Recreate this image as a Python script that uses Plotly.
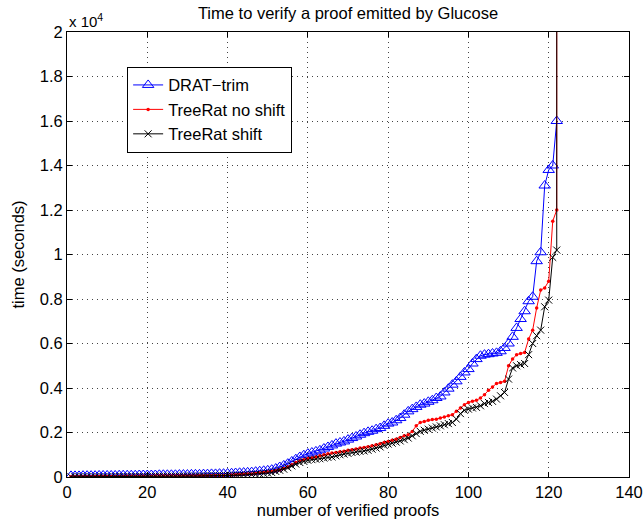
import plotly.graph_objects as go

# values in thousands of seconds, x = 1..N
drat = [0.05,0.05,0.05,0.06,0.06,0.06,0.06,0.07,0.07,0.07,
        0.07,0.07,0.08,0.08,0.08,0.08,0.08,0.09,0.09,0.09,
        0.09,0.09,0.10,0.10,0.10,0.10,0.10,0.11,0.11,0.11,
        0.12,0.12,0.12,0.13,0.13,0.14,0.14,0.15,0.15,0.16,
        0.17,0.18,0.19,0.20,0.21,0.22,0.24,0.26,0.28,0.30,
        0.33,0.38,0.45,0.52,0.60,0.70,0.80,0.90,0.98,1.05,
        1.10,1.15,1.20,1.28,1.35,1.42,1.50,1.55,1.60,1.68,
        1.75,1.82,1.90,1.97,2.03,2.08,2.15,2.20,2.30,2.40,
        2.45,2.55,2.65,2.80,2.95,3.05,3.15,3.25,3.30,3.38,
        3.45,3.55,3.62,3.80,3.97,4.15,4.30,4.50,4.70,4.85,
        5.10,5.30,5.45,5.50,5.52,5.55,5.58,5.65,5.80,6.00,
        6.30,6.70,7.10,7.45,7.90,8.10,9.70,10.10,13.10,13.80,
        14.00,16.00]

noshift = [0.01,0.01,0.01,0.01,0.01,0.01,0.02,0.02,0.02,0.02,
           0.02,0.02,0.02,0.02,0.03,0.03,0.03,0.03,0.03,0.03,
           0.03,0.04,0.04,0.04,0.04,0.04,0.04,0.05,0.05,0.05,
           0.05,0.05,0.06,0.06,0.06,0.06,0.07,0.07,0.07,0.08,
           0.09,0.10,0.11,0.12,0.13,0.14,0.16,0.18,0.20,0.22,
           0.25,0.28,0.32,0.38,0.45,0.55,0.65,0.72,0.78,0.83,
           0.85,0.90,0.95,1.00,1.05,1.08,1.10,1.13,1.16,1.20,
           1.23,1.26,1.30,1.33,1.36,1.40,1.45,1.50,1.55,1.60,
           1.65,1.70,1.78,1.85,1.90,2.05,2.30,2.45,2.50,2.55,
           2.58,2.60,2.65,2.70,2.75,2.80,2.95,3.10,3.25,3.35,
           3.40,3.45,3.55,3.70,3.90,4.05,4.20,4.25,4.30,5.00,
           5.30,5.50,5.55,5.60,6.20,6.60,7.60,8.40,8.50,8.80,
           11.50,12.00,10000.0]

shift = [0.01,0.01,0.01,0.01,0.01,0.01,0.01,0.01,0.01,0.01,
         0.01,0.02,0.02,0.02,0.02,0.02,0.02,0.02,0.02,0.02,
         0.02,0.03,0.03,0.03,0.03,0.03,0.03,0.03,0.04,0.04,
         0.04,0.04,0.04,0.05,0.05,0.05,0.05,0.06,0.06,0.06,
         0.07,0.08,0.08,0.09,0.10,0.11,0.12,0.14,0.16,0.18,
         0.20,0.25,0.30,0.35,0.42,0.50,0.58,0.65,0.70,0.75,
         0.78,0.80,0.82,0.85,0.88,0.90,0.95,1.00,1.03,1.06,
         1.10,1.12,1.15,1.17,1.20,1.25,1.30,1.35,1.42,1.48,
         1.52,1.57,1.62,1.68,1.75,1.85,1.95,2.05,2.10,2.15,
         2.20,2.25,2.30,2.35,2.40,2.45,2.60,2.85,3.00,3.05,
         3.10,3.13,3.20,3.30,3.35,3.40,3.50,3.65,3.80,4.40,
         4.90,5.00,5.05,5.10,5.50,6.00,6.35,6.60,7.65,7.95,
         9.87,10.20,10000.0]

yticks = [0, 2000, 4000, 6000, 8000, 10000, 12000, 14000, 16000, 18000, 20000]
yticklabels = ["0", "0.2", "0.4", "0.6", "0.8", "1", "1.2", "1.4", "1.6", "1.8", "2"]
xticks = [0, 20, 40, 60, 80, 100, 120, 140]

def xs(vals):
    return list(range(1, len(vals) + 1))

def secs(vals):
    return [v * 1000 for v in vals]

FONT = "Liberation Sans, Arial, Helvetica, sans-serif"
FS = 16.5

fig = go.Figure()
fig.add_trace(go.Scatter(x=xs(drat), y=secs(drat), name="DRAT\u2212trim", mode="lines+markers",
                         line=dict(color="#0000ff", width=1),
                         marker=dict(symbol="triangle-up-open", size=10, color="#0000ff",
                                     line=dict(width=1, color="#0000ff"))))
fig.add_trace(go.Scatter(x=xs(noshift), y=secs(noshift), name="TreeRat no shift", mode="lines+markers",
                         line=dict(color="#ff0000", width=1),
                         marker=dict(symbol="circle", size=3.5, color="#ff0000")))
fig.add_trace(go.Scatter(x=xs(shift), y=secs(shift), name="TreeRat shift", mode="lines+markers",
                         line=dict(color="#000000", width=1),
                         marker=dict(symbol="x-thin-open", size=7, color="#000000",
                                     line=dict(width=1, color="#000000"))))

axis_common = dict(showline=True, linecolor="black", linewidth=1, mirror="ticks",
                   ticks="inside", ticklen=5, tickcolor="black", automargin=False,
                   showgrid=True, gridcolor="#444444", griddash="1px,4px", gridwidth=1,
                   zeroline=False, tickfont=dict(family=FONT, size=FS, color="black"))

fig.update_layout(
    width=644, height=525,
    margin=dict(l=67, r=15, t=32, b=48),
    paper_bgcolor="white", plot_bgcolor="white",
    font=dict(family=FONT, size=FS, color="black"),
    title=dict(text="Time to verify a proof emitted by Glucose", x=(67 + 629) / 2 / 644,
               xanchor="center", y=1 - 13 / 525, yanchor="middle",
               font=dict(family=FONT, size=16.5, color="black")),
    xaxis=dict(range=[0, 140], tickvals=xticks, **axis_common,
               title=dict(text="number of verified proofs", standoff=0,
                          font=dict(family=FONT, size=FS))),
    yaxis=dict(range=[0, 20000], tickvals=yticks, ticktext=yticklabels, **axis_common,
               title=dict(text="time (seconds)", standoff=10,
                          font=dict(family=FONT, size=FS))),
    legend=dict(x=0.107, y=0.922, xanchor="left", yanchor="top",
                bgcolor="white", bordercolor="black", borderwidth=1,
                font=dict(family=FONT, size=FS), tracegroupgap=0),
    showlegend=True,
)
fig.add_annotation(text="x 10<sup>4</sup>", xref="paper", yref="paper", x=0, y=1,
                   xanchor="left", yanchor="bottom", showarrow=False, yshift=0,
                   font=dict(family=FONT, size=15, color="black"))

fig.write_html("out.html", config={"displayModeBar": False},
               post_script="document.body.style.margin='0px';")
